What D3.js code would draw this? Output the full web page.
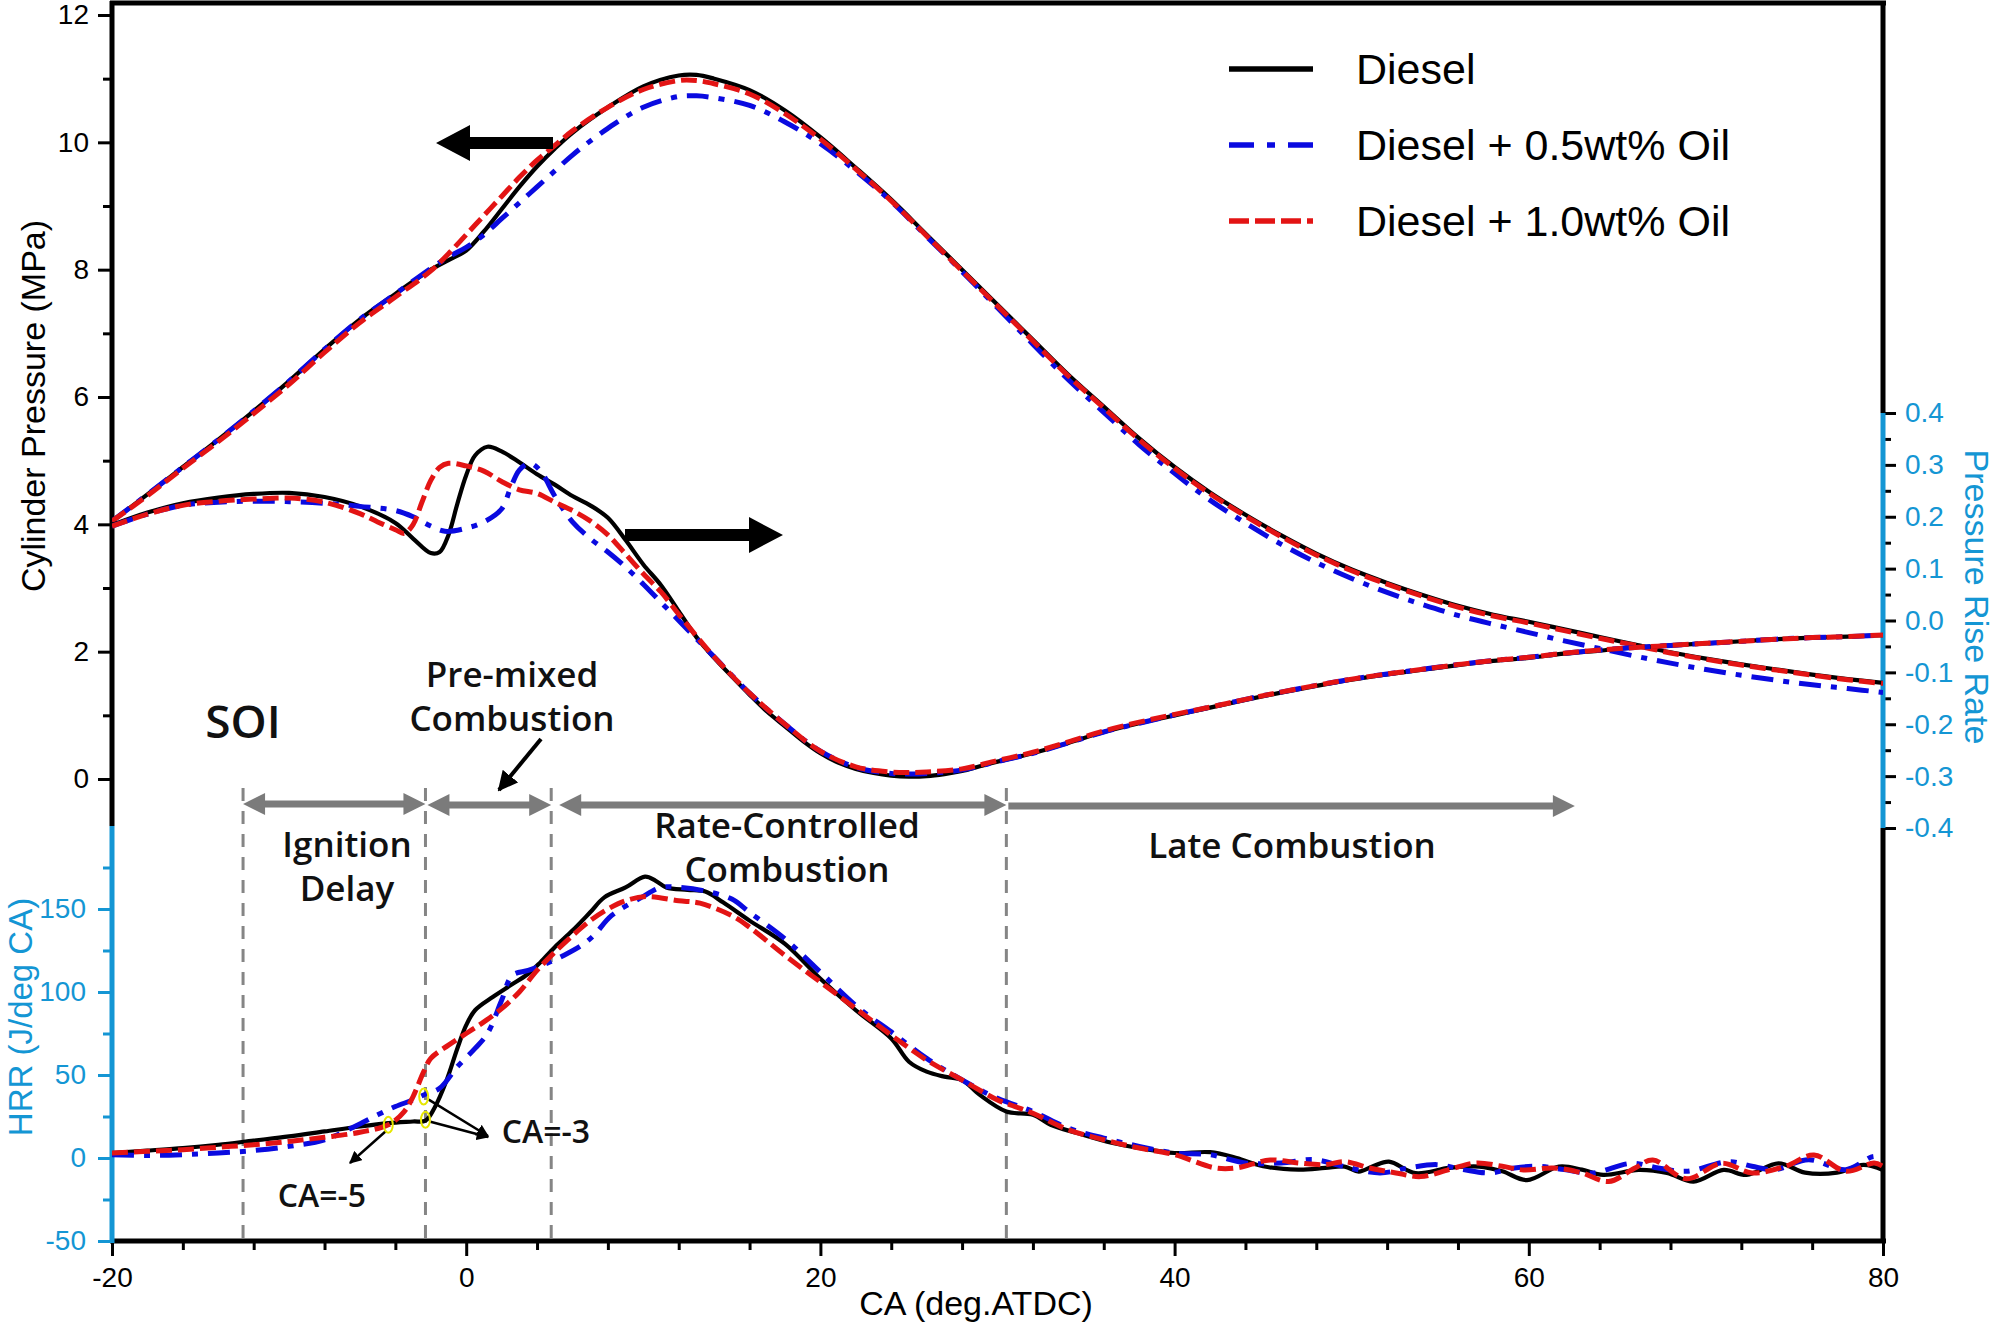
<!DOCTYPE html>
<html><head><meta charset="utf-8">
<script src="https://cdn.jsdelivr.net/npm/d3@7"></script>
<style>html,body{margin:0;padding:0;background:#fff;} svg{display:block;}</style>
</head><body>
<svg id="c" width="2000" height="1334"></svg>
<script>
// ---------------- DATA ----------------
const seriesNames = ["Diesel", "Diesel + 0.5wt% Oil", "Diesel + 1.0wt% Oil"];

// Cylinder pressure (MPa)
const caP = [-20,-18,-16,-14,-12,-10,-8,-6,-4,-2,-1,0,1,2,3,4,5,6,8,10,12,13,14,16,18,20,22,24,26,28,30,32,34,36,38,40,42,44,46,48,50,52,54,56,58,60,62,64,66,68,70,72,74,76,78,80];
const pDiesel = [4.05,4.47,4.9,5.33,5.78,6.25,6.75,7.22,7.62,8.0,8.15,8.3,8.6,8.95,9.3,9.62,9.9,10.15,10.55,10.88,11.05,11.06,11.0,10.82,10.5,10.08,9.6,9.1,8.55,8.0,7.45,6.9,6.35,5.85,5.35,4.9,4.5,4.15,3.83,3.54,3.29,3.08,2.89,2.72,2.58,2.47,2.35,2.23,2.11,1.99,1.89,1.8,1.72,1.64,1.57,1.51];
const pOil05 = [4.05,4.47,4.9,5.33,5.78,6.25,6.75,7.22,7.62,8.02,8.2,8.35,8.55,8.8,9.05,9.3,9.55,9.8,10.22,10.55,10.72,10.73,10.7,10.58,10.32,9.98,9.55,9.07,8.52,7.97,7.4,6.83,6.27,5.76,5.25,4.8,4.38,4.02,3.69,3.4,3.15,2.93,2.74,2.57,2.43,2.3,2.17,2.05,1.93,1.82,1.72,1.63,1.55,1.48,1.42,1.36];
const pOil10 = [4.05,4.45,4.88,5.3,5.74,6.2,6.7,7.17,7.57,7.98,8.25,8.55,8.85,9.15,9.45,9.72,9.95,10.18,10.55,10.83,10.97,10.97,10.92,10.76,10.45,10.05,9.58,9.08,8.53,7.98,7.43,6.88,6.33,5.83,5.33,4.88,4.48,4.13,3.81,3.52,3.27,3.06,2.87,2.7,2.56,2.45,2.33,2.21,2.1,1.98,1.88,1.79,1.71,1.63,1.56,1.5];

// Pressure rise rate (MPa/deg)
const caRDiesel = [-20,-18,-16,-14,-12,-10,-8,-6,-4,-3,-2,-1.5,-1,-0.5,0,0.5,1.2,2,3,4,5,6,7,8,9,10,11,12,13,14,15,16,17,18,19,20,21,22,23,24,25,26,27,28,29,30,32,34,36,38,40,42,44,46,48,50,52,54,56,58,60,62,64,66,68,70,72,74,76,78,80];
const rDiesel = [0.184,0.208,0.226,0.237,0.244,0.246,0.238,0.22,0.188,0.158,0.13,0.132,0.165,0.225,0.28,0.318,0.335,0.326,0.305,0.282,0.262,0.24,0.222,0.198,0.155,0.108,0.068,0.018,-0.032,-0.072,-0.108,-0.143,-0.176,-0.204,-0.232,-0.256,-0.274,-0.286,-0.294,-0.299,-0.301,-0.3,-0.296,-0.29,-0.281,-0.272,-0.256,-0.236,-0.215,-0.198,-0.183,-0.168,-0.153,-0.139,-0.126,-0.114,-0.104,-0.095,-0.086,-0.078,-0.072,-0.064,-0.058,-0.052,-0.048,-0.044,-0.04,-0.036,-0.033,-0.031,-0.028];
const caROil05 = [-20,-18,-16,-14,-12,-10,-8,-6,-4,-3,-2,-1.2,0,1,2,2.5,3,3.6,4.2,5,6,7,8,9,10,11,12,13,14,16,18,20,22,24,25,26,28,30,32,34,36,38,40,42,44,46,48,50,52,54,56,58,60,62,64,66,68,70,72,74,76,78,80];
const rOil05 = [0.182,0.205,0.222,0.228,0.23,0.229,0.226,0.22,0.212,0.2,0.182,0.172,0.178,0.19,0.215,0.255,0.29,0.303,0.288,0.24,0.19,0.158,0.132,0.103,0.07,0.035,0.0,-0.035,-0.07,-0.14,-0.2,-0.252,-0.283,-0.295,-0.296,-0.295,-0.288,-0.272,-0.256,-0.236,-0.215,-0.198,-0.182,-0.167,-0.152,-0.138,-0.125,-0.113,-0.103,-0.094,-0.085,-0.077,-0.071,-0.063,-0.057,-0.052,-0.048,-0.044,-0.04,-0.036,-0.033,-0.031,-0.028];
const caROil10 = [-20,-18,-16,-14,-12,-10,-8,-6,-5,-4,-3.5,-3,-2.5,-2,-1.5,-1,0,1,2,3,4,5,6,7,8,9,10,11,12,13,14,16,18,20,22,24,25,26,28,30,32,34,36,38,40,42,44,46,48,50,52,54,56,58,60,62,64,66,68,70,72,74,76,78,80];
const rOil10 = [0.182,0.205,0.222,0.23,0.234,0.236,0.228,0.206,0.19,0.175,0.168,0.185,0.228,0.27,0.295,0.303,0.298,0.288,0.268,0.252,0.245,0.228,0.212,0.192,0.165,0.128,0.09,0.055,0.012,-0.03,-0.07,-0.14,-0.2,-0.252,-0.282,-0.292,-0.293,-0.292,-0.286,-0.27,-0.254,-0.234,-0.213,-0.196,-0.181,-0.167,-0.152,-0.138,-0.125,-0.113,-0.103,-0.094,-0.085,-0.077,-0.071,-0.063,-0.057,-0.052,-0.048,-0.044,-0.04,-0.036,-0.033,-0.031,-0.028];

// Heat release rate (J/deg CA)
const caHDiesel = [-20,-18,-16,-14,-12,-10,-8,-6,-4.4,-3,-2.3,-1.8,-1.1,-0.5,0,0.5,1.5,2.5,3.5,4.2,5,6,7,7.8,9,10.1,10.7,11.3,12.5,13.5,14.5,16,18,20,22,24,25,26,27,28,29,30.5,32,33,34.5,36.5,38,40,42,43.5,45,47,48.5,49.6,50.4,51.2,52.1,53.6,55.5,57.2,58.5,59.9,61.7,63,64.2,66.2,67.8,69.3,71,72.3,74.1,75.6,77.4,78.9,80];
const hDiesel = [3,4.5,6,8,10.5,13,16,19,21,22,22.5,30,47,66,80,89,97,104,111,118,127,137,148,157,163,169.5,167,163,161.5,160.5,154,143,129,108,89,72,58,52,49,47,38,28,26,20,15,9,6,3,3.5,0,-5,-7,-6,-5.2,-8.2,-5,-2.2,-9.1,-6,-5.2,-8,-13.3,-5.2,-7,-10.2,-7.2,-9,-14.2,-7.2,-10.2,-3.2,-8.8,-8.8,-4.2,-7.2];
const caHOil05 = [-20,-18,-16,-14,-12,-10,-8,-6.3,-5,-4,-3,-2.4,-1.5,-0.5,0.5,1.2,2,2.6,3.5,4.5,5.5,6.5,7.2,8.2,9.9,11,12,13.4,15,16,18,19.7,22.2,24,26,28,30,32,34,36,38,40,42,44,46,47.9,49.5,51.6,53.2,54.8,56.3,57.8,59.2,60.6,62,63.6,65.8,67.3,68.9,71.3,72.6,73.9,75.8,77.9,79.5,80];
const hOil05 = [2,1.5,2,3,4.5,7,11,19,26,31,35,38,42,55,66,75,95,110,113,117,122,128,134,146,157,163,163,161,156,148,132,115,90,76,60,47,36,28,18,12,7,3,2,-3,-3,-1,-5,-9,-6,-4,-7,-9,-6,-5,-7,-9,-3.2,-6,-8,-2.2,-5,-7,-1,-7,1,-1];
const caHOil10 = [-20,-18,-16,-14,-12,-10,-8,-6,-4.4,-3.5,-3,-2.4,-2,-1,0,1,2,3,4,5,6,7,8,9,10.2,12,13.2,15,16,18,20,22,24,26,28,30,31,32,34,36,38,40,42.3,43.5,45.4,47,48.5,49.6,51,52.5,53.9,55.5,57,58.5,59.7,61.4,63,64.5,66,67,68.9,70.9,72.6,74.5,76.1,77.9,79.5,80];
const hOil10 = [3,4,5,6.5,8,10,12.5,15.5,20,28,37,52,60,68,75,82,90,100,113,124,134,143,150,155,157.5,155,153.5,146,139,122,106,90,74,59,47,35,31,27,17,11,6,2,-6,-6,-1.2,-3,-4,-2.2,-6,-9,-11.2,-7,-3,-5,-7.2,-6,-9,-14.2,-6,-1.2,-12.5,-3.2,-9,-5,1.8,-8,-3,-5];

// Axis ticks
const xMajor = [-20,0,20,40,60,80];
const pMajor = [0,2,4,6,8,10,12];
const hMajor = [-50,0,50,100,150];
const rMajor = [-0.4,-0.3,-0.2,-0.1,0.0,0.1,0.2,0.3,0.4];

// Combustion phases (CA)
const phaseBounds = [-12.6, -2.3, 4.8, 30.5];
const lateEnd = 62.6;
// Highlighted points (CA, HRR)
const markCA = [-4.4, -2.4, -2.3];
const markHRR = [20, 37, 23];

// ---------------- CHART ----------------
const svg = d3.select("#c");
const BLUE_AX = "#1496d4";
const x = d3.scaleLinear([-20, 80], [112, 1883]);
const yP = d3.scaleLinear([0, 12], [779, 15]);
const yR = d3.scaleLinear([-0.4, 0.4], [828, 413]);
const yH = d3.scaleLinear([-50, 200], [1241, 826]);

const AX_FONT = "'Liberation Sans', Arial, sans-serif";
const NOTE_FONT = "'Open Sans', 'Noto Sans', sans-serif";

svg.append("defs").append("clipPath").attr("id", "plot")
  .append("rect").attr("x", 112).attr("y", 3).attr("width", 1771).attr("height", 1238);

const styles = [
  {stroke: "#000000", width: 4.2, dash: null},
  {stroke: "#0a0ae0", width: 5, dash: "22 10 6 10"},
  {stroke: "#e31414", width: 5, dash: "16 6"}
];

// annotations: vertical dashed lines
const ann = svg.append("g");
phaseBounds.forEach(c => {
  ann.append("line").attr("x1", x(c)).attr("x2", x(c)).attr("y1", 788).attr("y2", 1238)
    .attr("stroke", "#858585").attr("stroke-width", 3).attr("stroke-dasharray", "13 10");
});

function dblArrow(x1, x2, y, left, right) {
  const hl = 22, hh = 11, sh = 3.5, col = "#7b7b7b";
  const g = ann.append("g");
  g.append("rect").attr("x", x1 + (left ? hl - 2 : 0)).attr("y", y - sh)
    .attr("width", (x2 - (right ? hl - 2 : 0)) - (x1 + (left ? hl - 2 : 0))).attr("height", sh * 2).attr("fill", col);
  if (left) g.append("path").attr("d", `M${x1},${y}L${x1 + hl},${y - hh}L${x1 + hl},${y + hh}Z`).attr("fill", col);
  if (right) g.append("path").attr("d", `M${x2},${y}L${x2 - hl},${y - hh}L${x2 - hl},${y + hh}Z`).attr("fill", col);
}
dblArrow(x(phaseBounds[0]), x(phaseBounds[1]), 804, true, true);
dblArrow(x(phaseBounds[1]) + 2, x(phaseBounds[2]), 805, true, true);
dblArrow(x(phaseBounds[2]) + 8, x(phaseBounds[3]), 805, true, true);
dblArrow(x(phaseBounds[3]) + 2, x(lateEnd), 806, false, true);

// ---------------- AXES ----------------
function styleAxis(g, color, fontSize) {
  g.select(".domain").remove();
  g.selectAll("line").attr("stroke", color).attr("stroke-width", 3);
  g.selectAll("text").attr("font-family", AX_FONT).attr("font-size", fontSize);
}
const rng = (a, b, s) => d3.range(a, b + s / 2, s).map(v => Math.round(v * 1000) / 1000);

// X axis
svg.append("g").attr("transform", "translate(0,1241)")
  .call(d3.axisBottom(x).tickValues(rng(-20, 80, 4).filter(v => !xMajor.includes(v))).tickSize(9).tickFormat(""))
  .call(g => styleAxis(g, "#000", 28));
svg.append("g").attr("transform", "translate(0,1241)")
  .call(d3.axisBottom(x).tickValues(xMajor).tickSize(15).tickPadding(11).tickFormat(d => String(d)))
  .call(g => styleAxis(g, "#000", 28)).selectAll("text").attr("fill", "#000");

// Left pressure axis
svg.append("g").attr("transform", "translate(112,0)")
  .call(d3.axisLeft(yP).tickValues([1,3,5,7,9,11]).tickSize(9).tickFormat(""))
  .call(g => styleAxis(g, "#000", 28));
svg.append("g").attr("transform", "translate(112,0)")
  .call(d3.axisLeft(yP).tickValues(pMajor).tickSize(14).tickPadding(9).tickFormat(d => String(d)))
  .call(g => styleAxis(g, "#000", 28)).selectAll("text").attr("fill", "#000");

// Left HRR axis
svg.append("g").attr("transform", "translate(112,0)")
  .call(d3.axisLeft(yH).tickValues([-25,25,75,125,175]).tickSize(9).tickFormat(""))
  .call(g => styleAxis(g, BLUE_AX, 28));
svg.append("g").attr("transform", "translate(112,0)")
  .call(d3.axisLeft(yH).tickValues(hMajor).tickSize(14).tickPadding(12).tickFormat(d => String(d)))
  .call(g => styleAxis(g, BLUE_AX, 28)).selectAll("text").attr("fill", BLUE_AX);

// Right PRR axis
svg.append("g").attr("transform", "translate(1883,0)")
  .call(d3.axisRight(yR).tickValues(rng(-0.35, 0.35, 0.1)).tickSize(8).tickFormat(""))
  .call(g => styleAxis(g, "#000", 28));
svg.append("g").attr("transform", "translate(1883,0)")
  .call(d3.axisRight(yR).tickValues(rMajor).tickSize(13).tickPadding(9).tickFormat(d => (Math.round(d * 10) / 10).toFixed(1)))
  .call(g => styleAxis(g, "#000", 28)).selectAll("text").attr("fill", BLUE_AX);

// Frame / axis lines
const frame = svg.append("g").attr("stroke-width", 5).attr("fill", "none");
frame.append("line").attr("x1", 110).attr("x2", 1886).attr("y1", 3).attr("y2", 3).attr("stroke", "#000");
frame.append("line").attr("x1", 110).attr("x2", 1886).attr("y1", 1241).attr("y2", 1241).attr("stroke", "#000");
frame.append("line").attr("x1", 112).attr("x2", 112).attr("y1", 1).attr("y2", yH(200)).attr("stroke", "#000");
frame.append("line").attr("x1", 112).attr("x2", 112).attr("y1", yH(200)).attr("y2", 1243).attr("stroke", BLUE_AX);
frame.append("line").attr("x1", 1883).attr("x2", 1883).attr("y1", 1).attr("y2", yR(0.4)).attr("stroke", "#000");
frame.append("line").attr("x1", 1883).attr("x2", 1883).attr("y1", yR(0.4)).attr("y2", yR(-0.4)).attr("stroke", BLUE_AX);
frame.append("line").attr("x1", 1883).attr("x2", 1883).attr("y1", yR(-0.4)).attr("y2", 1243).attr("stroke", "#000");

// Axis titles
svg.append("text").attr("transform", "translate(45,406) rotate(-90)").attr("text-anchor", "middle")
  .attr("font-family", AX_FONT).attr("font-size", 34).attr("fill", "#000").text("Cylinder Pressure (MPa)");
svg.append("text").attr("transform", "translate(32,1017) rotate(-90)").attr("text-anchor", "middle")
  .attr("font-family", AX_FONT).attr("font-size", 33).attr("fill", BLUE_AX).text("HRR (J/deg CA)");
svg.append("text").attr("transform", "translate(1965,597) rotate(90)").attr("text-anchor", "middle")
  .attr("font-family", AX_FONT).attr("font-size", 34).attr("fill", BLUE_AX).text("Pressure Rise Rate");
svg.append("text").attr("x", 976).attr("y", 1315).attr("text-anchor", "middle")
  .attr("font-family", AX_FONT).attr("font-size", 34).attr("fill", "#000").text("CA (deg.ATDC)");

// ---------------- CURVES ----------------
const curves = svg.append("g").attr("clip-path", "url(#plot)").attr("fill", "none")
  .attr("stroke-linejoin", "round");
function drawSet(cas, vals, yScale) {
  vals.forEach((v, i) => {
    const pts = cas[i].map((c, j) => [c, v[j]]);
    const line = d3.line().x(d => x(d[0])).y(d => yScale(d[1])).curve(d3.curveCatmullRom.alpha(0.5));
    curves.append("path").attr("d", line(pts)).attr("stroke", styles[i].stroke)
      .attr("stroke-width", styles[i].width).attr("stroke-dasharray", styles[i].dash);
  });
}
drawSet([caP, caP, caP], [pDiesel, pOil05, pOil10], yP);
drawSet([caRDiesel, caROil05, caROil10], [rDiesel, rOil05, rOil10], yR);
drawSet([caHDiesel, caHOil05, caHOil10], [hDiesel, hOil05, hOil10], yH);

// ---------------- LEGEND ----------------
const leg = svg.append("g");
seriesNames.forEach((n, i) => {
  const ly = [69, 145, 221][i];
  leg.append("line").attr("x1", 1229).attr("x2", 1313).attr("y1", ly).attr("y2", ly)
    .attr("stroke", styles[i].stroke).attr("stroke-width", 5.5)
    .attr("stroke-dasharray", i === 1 ? "25 13 8 13" : (i === 2 ? "20 6" : null));
  leg.append("text").attr("x", 1356).attr("y", ly + 15).attr("font-family", AX_FONT)
    .attr("font-size", 43).attr("fill", "#000").text(n);
});

// ---------------- BIG BLACK ARROWS ----------------
function bigArrow(tipX, tailX, y) {
  const dir = Math.sign(tailX - tipX), hl = 34, hh = 18, sh = 6;
  const bx = tipX + dir * hl;
  svg.append("path").attr("fill", "#000")
    .attr("d", `M${tipX},${y}L${bx},${y - hh}L${bx},${y - sh}L${tailX},${y - sh}L${tailX},${y + sh}L${bx},${y + sh}L${bx},${y + hh}Z`);
}
bigArrow(436, 553, 143);
bigArrow(783, 625, 535);

// ---------------- TEXT ANNOTATIONS ----------------
function note(t, xx, yy, size, weight) {
  svg.append("text").attr("x", xx).attr("y", yy).attr("text-anchor", "middle")
    .attr("font-family", NOTE_FONT).attr("font-size", size).attr("font-weight", weight || 600)
    .attr("fill", "#111").text(t);
}
note("SOI", 243, 738, 46, 600);
note("Pre-mixed", 512, 687, 35);
note("Combustion", 512, 731, 35);
note("Ignition", 347, 857, 35);
note("Delay", 347, 901, 35);
note("Rate-Controlled", 787, 838, 35);
note("Combustion", 787, 882, 35);
note("Late Combustion", 1292, 858, 35);
note("CA=-5", 322, 1207, 32);
note("CA=-3", 546, 1143, 32);

// thin black arrows
const defs = svg.select("defs");
defs.append("marker").attr("id", "ah").attr("viewBox", "0 0 10 10").attr("refX", 9).attr("refY", 5)
  .attr("markerWidth", 5).attr("markerHeight", 5).attr("orient", "auto-start-reverse")
  .append("path").attr("d", "M0,0L10,5L0,10Z").attr("fill", "#000");
function thinArrow(x1, y1, x2, y2, w) {
  svg.append("line").attr("x1", x1).attr("y1", y1).attr("x2", x2).attr("y2", y2)
    .attr("stroke", "#000").attr("stroke-width", w).attr("marker-end", "url(#ah)");
}
thinArrow(541, 739, 499, 790, 4);
thinArrow(x(markCA[0]) - 2, yH(markHRR[0]) + 6, 350, 1163, 2.5);
thinArrow(x(markCA[1]) + 5, yH(markHRR[1]) + 3, 488, 1136, 2.5);
thinArrow(x(markCA[2]) + 5, yH(markHRR[2]) + 2, 488, 1137, 2.5);

// yellow point markers
markCA.forEach((c, i) => {
  svg.append("ellipse").attr("cx", x(c)).attr("cy", yH(markHRR[i])).attr("rx", 4.5).attr("ry", 8)
    .attr("fill", "none").attr("stroke", "#e6e600").attr("stroke-width", 2);
});
</script>
</body></html>
